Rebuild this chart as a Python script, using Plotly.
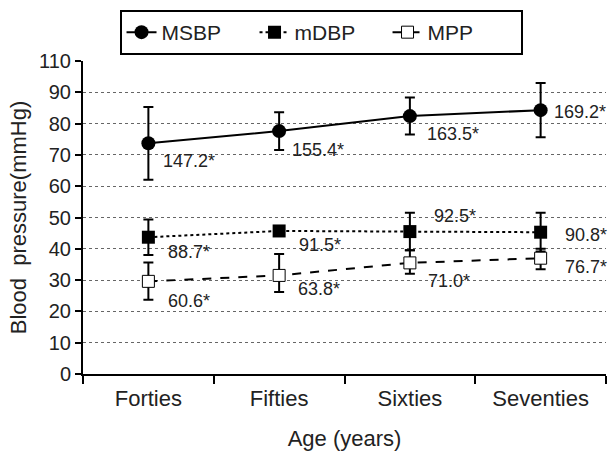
import plotly.graph_objects as go

categories = ["Forties", "Fifties", "Sixties", "Seventies"]

msbp = [73.7, 77.6, 82.4, 84.3]
msbp_err = [11.6, 6.0, 5.9, 8.7]
msbp_labels = ["147.2*", "155.4*", "163.5*", "169.2*"]

mdbp = [43.7, 45.7, 45.5, 45.3]
mdbp_err = [5.7, 0.0, 6.0, 6.2]
mdbp_labels = ["88.7*", "91.5*", "92.5*", "90.8*"]

mpp = [29.6, 31.5, 35.5, 37.0]
mpp_err_plus = [6.0, 6.8, 4.0, 3.0]
mpp_err_minus = [5.9, 5.3, 3.5, 3.5]
mpp_labels = ["60.6*", "63.8*", "71.0*", "76.7*"]

y_tickvals = [0, 10, 20, 30, 40, 50, 60, 70, 80, 90, 100]
y_ticktext = ["0", "10", "20", "30", "40", "50", "60", "70", "80", "90", "110"]

FONT = "Liberation Sans, Arial, sans-serif"
TXT = "#222"

fig = go.Figure()

fig.add_trace(go.Scatter(
    x=categories, y=msbp, name="MSBP", mode="lines+markers",
    line=dict(color="black", width=2),
    marker=dict(symbol="circle", size=14, color="black"),
    error_y=dict(type="data", array=msbp_err, color="black", thickness=2, width=5),
    cliponaxis=False,
))
fig.add_trace(go.Scatter(
    x=categories, y=mdbp, name="mDBP", mode="lines+markers",
    line=dict(color="black", width=2, dash="dot"),
    marker=dict(symbol="square", size=13, color="black"),
    error_y=dict(type="data", array=mdbp_err, color="black", thickness=2, width=5),
    cliponaxis=False,
))
fig.add_trace(go.Scatter(
    x=categories, y=mpp, name="MPP", mode="lines+markers",
    line=dict(color="black", width=2, dash="dash"),
    marker=dict(symbol="square", size=12, color="white", line=dict(color="black", width=1)),
    error_y=dict(type="data", array=mpp_err_plus, arrayminus=mpp_err_minus,
                 color="black", thickness=2, width=5),
    cliponaxis=False,
))

# label offsets (pixels) relative to each point
msbp_shift = [(41, -18), (39, -19), (43, -18), (39, -2)]
mdbp_shift = [(41, -15), (41, -14), (45, 16), (45, -3)]
mpp_shift = [(41, -20), (40, -14), (39, -18), (45, -9)]

annotations = []
for vals, labels, shifts in ((msbp, msbp_labels, msbp_shift),
                             (mdbp, mdbp_labels, mdbp_shift),
                             (mpp, mpp_labels, mpp_shift)):
    for c, v, t, (dx, dy) in zip(categories, vals, labels, shifts):
        annotations.append(dict(
            x=c, y=v, xref="x", yref="y", text=t, showarrow=False,
            xshift=dx, yshift=dy, font=dict(family=FONT, size=18, color=TXT),
        ))

fig.update_layout(
    width=608, height=455,
    margin=dict(l=83, r=2, t=61, b=81),
    paper_bgcolor="white", plot_bgcolor="white",
    font=dict(family=FONT, color=TXT),
    showlegend=True,
    legend=dict(
        orientation="h", xref="container", yref="container",
        x=0.528, xanchor="center", y=0.978, yanchor="top",
        bordercolor="black", borderwidth=2, bgcolor="white",
        font=dict(family=FONT, size=21, color=TXT),
        entrywidth=88, itemwidth=30,
    ),
    annotations=annotations,
    xaxis=dict(
        type="category", range=[-0.5, 3.5], automargin=False,
        showline=True, linecolor="black", linewidth=2,
        ticks="outside", tickson="boundaries", ticklen=8, tickwidth=2, tickcolor="black",
        ticklabelstandoff=4,
        showgrid=False, zeroline=False,
        tickfont=dict(family=FONT, size=22, color=TXT),
        title=dict(text="Age (years)", font=dict(family=FONT, size=22, color=TXT), standoff=20),
    ),
    yaxis=dict(
        range=[0, 100], tickvals=y_tickvals, ticktext=y_ticktext, automargin=False,
        showline=True, linecolor="black", linewidth=2,
        ticks="outside", ticklen=6, tickwidth=2, tickcolor="black",
        showgrid=True, gridcolor="#666", gridwidth=1, griddash="dot",
        zeroline=False,
        tickfont=dict(family=FONT, size=20, color=TXT),
        title=dict(text="Blood\u00a0\u00a0pressure(mmHg)", font=dict(family=FONT, size=22, color=TXT), standoff=6),
    ),
)

fig.write_html(
    "out.html",
    config={"displayModeBar": False},
    post_script="document.body.style.margin='0';document.body.style.padding='0';",
)
